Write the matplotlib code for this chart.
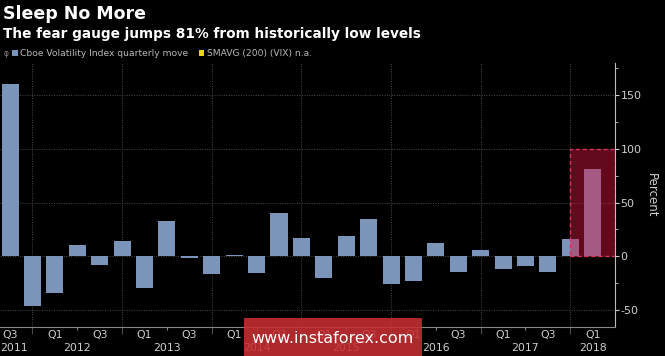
import pandas as pd
import matplotlib.pyplot as plt
from matplotlib.patches import Rectangle
from matplotlib.ticker import FixedLocator

# quarterly move of the Cboe Volatility Index, Q3 2011 .. Q1 2018
quarters = pd.period_range("2011Q3", "2018Q1", freq="Q")
moves = [160, -46, -34, 10, -8, 14, -30, 33, -2, -17, 1, -16, 40, 17,
         -20, 19, 35, -26, -23, 12, -15, 6, -12, -9, -15, 16, 81]
y_ticks = [-50, 0, 50, 100, 150]
highlight_top = 100

bar_color = "#7a94ba"
text_color = "#cfcfcf"
grid_color = "#4a4a4a"

plt.rcParams['font.family'] = 'DejaVu Sans'

fig = plt.figure(figsize=(6.65, 3.56), dpi=100, facecolor="black")
ax = fig.add_axes([0.0, 0.0815, 0.925, 0.7415], facecolor="black")

x = list(range(len(moves)))
ax.bar(x, moves, width=0.76, color=bar_color, zorder=2)

# highlighted latest quarters
n = len(moves)
ax.add_patch(Rectangle((n - 2, 0), 2, highlight_top, facecolor=(0.86, 0.08, 0.25, 0.45),
                       edgecolor="#d8345c", linestyle=(0, (3, 2)), linewidth=1.0, zorder=3))

x_left = -0.45
ax.set_xlim(x_left, n)
ax.set_ylim(-66, 180)

# y axis on the right
ax.yaxis.tick_right()
ax.yaxis.set_label_position("right")
ax.set_yticks(y_ticks)
ax.set_yticklabels([str(v) for v in y_ticks])
ax.yaxis.set_minor_locator(FixedLocator([-25, 25, 75, 125, 175]))
ax.tick_params(axis='y', which='major', colors=text_color, labelsize=8, length=3, width=0.8, pad=1)
ax.tick_params(axis='y', which='minor', colors=text_color, length=2, width=0.6)
ax.set_ylabel("Percent", color=text_color, fontsize=8.5, rotation=270, labelpad=12)

# x ticks: Q4 positions major, Q2 positions minor
q4 = [i for i, q in enumerate(quarters) if q.quarter == 4]
q2 = [i for i, q in enumerate(quarters) if q.quarter == 2]
ax.set_xticks(q4)
ax.set_xticklabels([])
ax.xaxis.set_minor_locator(FixedLocator(q2))
ax.tick_params(axis='x', which='major', colors=grid_color, length=5, width=0.8)
ax.tick_params(axis='x', which='minor', colors="#888888", length=2.5, width=0.8)

for s in ["top", "left"]:
    ax.spines[s].set_visible(False)
ax.spines["right"].set_color("#bbbbbb")
ax.spines["bottom"].set_color("#888888")

ax.grid(True, axis='both', which='major', color=grid_color, linestyle=(0, (1, 1.5)), linewidth=0.7, zorder=0)

# quarter and year labels
trans = ax.get_xaxis_transform()
for i, q in enumerate(quarters):
    if q.quarter in (1, 3):
        ax.text(i, -0.031, f"Q{q.quarter}", transform=trans, ha="center", va="center",
                fontsize=7.8, color=text_color)
    if i == 0:
        ax.text(x_left + 0.03, -0.079, str(q.year), transform=trans, ha="left", va="center",
                fontsize=7.8, color=text_color)
    elif q.quarter == 2 or i == n - 1:
        ax.text(i, -0.079, str(q.year), transform=trans, ha="center", va="center",
                fontsize=7.8, color=text_color)

# titles and legend
fig.text(0.005, 0.962, "Sleep No More", color="white", fontsize=12.5, fontweight="bold", va="center")
fig.text(0.005, 0.905, "The fear gauge jumps 81% from historically low levels", color="white",
         fontsize=9.85, fontweight="bold", va="center")
fig.text(0.006, 0.851, "φ", color="#888888", fontsize=5.5, va="center")
fig.patches.append(Rectangle((0.018, 0.842), 0.0085, 0.018, transform=fig.transFigure,
                             facecolor=bar_color, figure=fig))
fig.text(0.03, 0.851, "Cboe Volatility Index quarterly move", color="#b8b8b8", fontsize=6.6, va="center")
fig.patches.append(Rectangle((0.299, 0.842), 0.0085, 0.018, transform=fig.transFigure,
                             facecolor="#e8d400", figure=fig))
fig.text(0.311, 0.851, "SMAVG (200) (VIX) n.a.", color="#b8b8b8", fontsize=6.6, va="center")

# watermark
fig.patches.append(Rectangle((0.367, 0.0), 0.268, 0.107, transform=fig.transFigure,
                             facecolor=(0.78, 0.18, 0.2, 0.88), figure=fig, zorder=5))
fig.text(0.5, 0.048, "www.instaforex.com", color="white", fontsize=11.5, ha="center", va="center", zorder=6)

fig.savefig("out.png", dpi=100, facecolor="black")
